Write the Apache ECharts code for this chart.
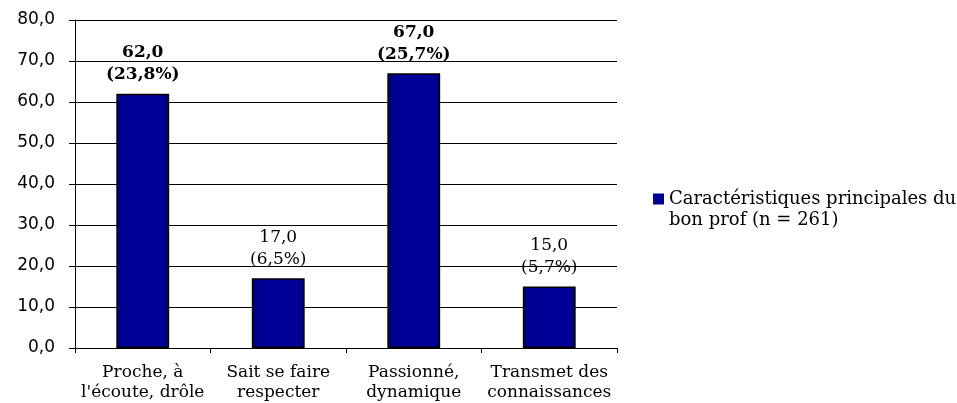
<!DOCTYPE html>
<html><head><meta charset="utf-8">
<script src="https://cdn.jsdelivr.net/npm/echarts@6/dist/echarts.min.js"></script>
<style>html,body{margin:0;padding:0;background:#fff;}#c{width:957px;height:403px;}</style>
</head><body><div id="c"></div>
<script>
const categories = ["Proche, à\nl'écoute, drôle", "Sait se faire\nrespecter", "Passionné,\ndynamique", "Transmet des\nconnaissances"];
const values = [62.0, 17.0, 67.0, 15.0];
const percents = ["23,8%", "6,5%", "25,7%", "5,7%"];
const seriesName = "Caractéristiques principales du\nbon prof (n = 261)";
const yTicks = [0, 10, 20, 30, 40, 50, 60, 70, 80];

const fmt = v => v.toFixed(1).replace('.', ',');
const chart = echarts.init(document.getElementById('c'), null, {renderer: 'canvas'});
const strong = [0, 2];
chart.setOption({
  animation: false,
  backgroundColor: '#fff',
  grid: {left: 75, right: 340, top: 20, bottom: 55},
  legend: {
    left: 648, top: 184, orient: 'vertical',
    itemWidth: 11, itemHeight: 33,
    icon: 'path://M0,0h10v10h-10z M0,30h0.05v0.05h-0.05z',
    itemStyle: {color: '#000090', borderColor: 'transparent', borderWidth: 0},
    textStyle: {fontFamily: 'DejaVu Serif', fontSize: 18, color: '#000', lineHeight: 21},
    data: [seriesName]
  },
  xAxis: {
    type: 'category', data: categories,
    axisLine: {lineStyle: {color: '#000', width: 1}},
    axisTick: {show: true, length: 5, lineStyle: {color: '#000'}},
    axisLabel: {fontFamily: 'DejaVu Serif', fontSize: 17, color: '#000', lineHeight: 20, margin: 15, interval: 0}
  },
  yAxis: {
    type: 'value', min: yTicks[0], max: yTicks[yTicks.length - 1], interval: 10,
    axisLine: {show: true, lineStyle: {color: '#000', width: 1}},
    axisTick: {show: true, length: 6, lineStyle: {color: '#000'}},
    splitLine: {lineStyle: {color: '#000', width: 1}},
    axisLabel: {fontFamily: 'DejaVu Sans', fontSize: 17, color: '#000', margin: 20, formatter: v => fmt(v)}
  },
  series: [{
    name: seriesName, type: 'bar', barWidth: '39%',
    itemStyle: {
      color: {type: 'linear', x: 0, y: 0, x2: 1, y2: 0, colorStops: [
        {offset: 0, color: '#00006e'}, {offset: 0.15, color: '#000096'},
        {offset: 0.85, color: '#00009a'}, {offset: 1, color: '#00007a'}]},
      borderColor: '#000', borderWidth: 1.5
    },
    data: values.map((v, i) => ({
      value: v,
      label: {
        show: true, position: 'top', distance: 8,
        fontFamily: 'DejaVu Serif', fontSize: 17, lineHeight: 22, color: '#000',
        fontWeight: strong.includes(i) ? 'bold' : 'normal',
        formatter: () => fmt(v) + '\n(' + percents[i] + ')'
      }
    }))
  }]
});
</script></body></html>
